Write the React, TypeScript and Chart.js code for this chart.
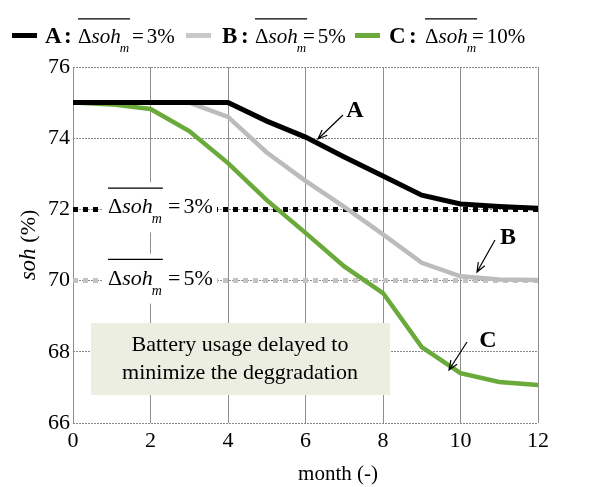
import React, { useEffect, useRef } from "react";
import { Chart, registerables } from "chart.js";

Chart.register(...registerables);

const months = [0, 1, 2, 3, 4, 5, 6, 7, 8, 9, 10, 11, 12];
const seriesA = [75, 75, 75, 75, 75, 74.48, 74.03, 73.47, 72.94, 72.4, 72.15, 72.08, 72.03];
const seriesB = [75, 75, 75, 75, 74.6, 73.6, 72.8, 72.07, 71.3, 70.5, 70.12, 70.03, 70.02];
const seriesC = [75, 74.95, 74.82, 74.2, 73.3, 72.26, 71.34, 70.4, 69.65, 68.13, 67.4, 67.15, 67.07];
const refA = months.map(() => 72);
const refB = months.map(() => 70);
const yTicks = [66, 68, 70, 72, 74, 76];
const xTicks = [0, 2, 4, 6, 8, 10, 12];

const SERIF = "'Liberation Serif', 'Times New Roman', serif";

function drawDsoh(ctx: CanvasRenderingContext2D, x: number, y: number, size: number, value: string, eqX?: number) {
  ctx.save();
  ctx.fillStyle = "#000";
  ctx.strokeStyle = "#000";
  ctx.textBaseline = "alphabetic";
  ctx.textAlign = "left";
  ctx.font = `${size}px ${SERIF}`;
  ctx.fillText("Δ", x, y);
  let w = ctx.measureText("Δ").width;
  ctx.font = `italic ${size}px ${SERIF}`;
  ctx.fillText("soh", x + w, y);
  w += ctx.measureText("soh").width;
  ctx.font = `italic ${Math.round(size * 0.62)}px ${SERIF}`;
  ctx.fillText("m", x + w - 1, y + size * 0.45);
  w += ctx.measureText("m").width - 1;
  ctx.lineWidth = 1.3;
  ctx.beginPath();
  ctx.moveTo(x, y - size * 1.15);
  ctx.lineTo(x + w + 1, y - size * 1.15);
  ctx.stroke();
  ctx.font = `${size}px ${SERIF}`;
  const ex = eqX !== undefined ? eqX : x + w + 5;
  ctx.fillText("=", ex, y);
  const ew = ctx.measureText("=").width;
  ctx.fillText(value, ex + ew + 3, y);
  ctx.restore();
}

function arrow(ctx: CanvasRenderingContext2D, x1: number, y1: number, x2: number, y2: number) {
  ctx.save();
  ctx.strokeStyle = "#000";
  ctx.lineWidth = 1.2;
  ctx.beginPath();
  ctx.moveTo(x1, y1);
  ctx.lineTo(x2, y2);
  const a = Math.atan2(y2 - y1, x2 - x1);
  const L = 10;
  ctx.moveTo(x2 - L * Math.cos(a - 0.38), y2 - L * Math.sin(a - 0.38));
  ctx.lineTo(x2, y2);
  ctx.lineTo(x2 - L * Math.cos(a + 0.38), y2 - L * Math.sin(a + 0.38));
  ctx.stroke();
  ctx.restore();
}

const overlay = {
  id: "overlay",
  afterDatasetsDraw(chart: any) {
    const ctx: CanvasRenderingContext2D = chart.ctx;
    const ys = chart.scales.y;
    const lab = (val: number, text: string) => {
      const yb = ys.getPixelForValue(val);
      ctx.save();
      ctx.fillStyle = "#fff";
      ctx.fillRect(102, yb - 27, 115, 50);
      ctx.restore();
      drawDsoh(ctx, 108, yb + 4, 22, text, 168);
    };
    lab(72, "3%");
    lab(70, "5%");

    // text box
    ctx.save();
    ctx.fillStyle = "#ebeee0";
    ctx.fillRect(91, 323, 299, 72);
    ctx.fillStyle = "#000";
    ctx.font = `22px ${SERIF}`;
    ctx.textAlign = "center";
    ctx.textBaseline = "middle";
    ctx.fillText("Battery usage delayed to", 240, 345);
    ctx.fillText("minimize the deggradation", 240, 373);
    ctx.restore();

    // arrows & labels
    arrow(ctx, 343, 115, 318, 139);
    arrow(ctx, 495, 240, 477, 272);
    arrow(ctx, 467, 342, 449, 370);
    ctx.save();
    ctx.fillStyle = "#000";
    ctx.font = `bold 24px ${SERIF}`;
    ctx.textAlign = "center";
    ctx.textBaseline = "middle";
    ctx.fillText("A", 355, 111);
    ctx.fillText("B", 508, 238);
    ctx.fillText("C", 488, 341);
    ctx.restore();

    // legend
    const items = [
      { c: "#000", l: "A", v: "3%", x: 12, lx: 45, cx: 64, dx: 78, ex: 132 },
      { c: "#c8c8c8", l: "B", v: "5%", x: 186, lx: 222, cx: 241, dx: 255, ex: 303 },
      { c: "#6aaa3a", l: "C", v: "10%", x: 355, lx: 389, cx: 409, dx: 425, ex: 472 },
    ];
    for (const it of items) {
      ctx.save();
      ctx.fillStyle = it.c;
      ctx.fillRect(it.x, 33, 25, 5);
      ctx.fillStyle = "#000";
      ctx.font = `bold 23px ${SERIF}`;
      ctx.textBaseline = "alphabetic";
      ctx.textAlign = "left";
      ctx.fillText(it.l, it.lx, 43);
      ctx.fillText(":", it.cx, 43);
      ctx.restore();
      drawDsoh(ctx, it.dx, 43, 21, it.v, it.ex);
    }

    // axis titles
    ctx.save();
    ctx.fillStyle = "#000";
    ctx.translate(29, 245);
    ctx.rotate(-Math.PI / 2);
    ctx.textBaseline = "middle";
    ctx.font = `italic 23px ${SERIF}`;
    const w1 = ctx.measureText("soh ").width;
    ctx.font = `22px ${SERIF}`;
    const w2 = ctx.measureText("(%)").width;
    const start = -(w1 + w2) / 2;
    ctx.font = `italic 23px ${SERIF}`;
    ctx.fillText("soh ", start, 0);
    ctx.font = `22px ${SERIF}`;
    ctx.fillText("(%)", start + w1, 0);
    ctx.restore();

    ctx.save();
    ctx.fillStyle = "#000";
    ctx.font = `21px ${SERIF}`;
    ctx.textAlign = "center";
    ctx.textBaseline = "middle";
    ctx.fillText("month (-)", 338, 474);
    ctx.restore();
  },
};

export default function App() {
  const ref = useRef<HTMLCanvasElement | null>(null);
  useEffect(() => {
    if (!ref.current) return;
    const chart = new Chart(ref.current, {
      type: "line",
      data: {
        labels: months,
        datasets: [
          { label: "refA", data: refA, borderColor: "#000", borderWidth: 5, borderDash: [5, 5], pointRadius: 0, order: 5 },
          { label: "refB", data: refB, borderColor: "#c4c4c4", borderWidth: 5, borderDash: [5, 5], pointRadius: 0, order: 5 },
          { label: "A", data: seriesA, borderColor: "#000", borderWidth: 5, pointRadius: 0, order: 1 },
          { label: "B", data: seriesB, borderColor: "#bcbcbc", borderWidth: 4.5, pointRadius: 0, order: 2 },
          { label: "C", data: seriesC, borderColor: "#6aaa3a", borderWidth: 4.5, pointRadius: 0, order: 3 },
        ],
      },
      options: {
        responsive: false,
        animation: false,
        layout: { padding: { left: 0, right: 66, top: 67, bottom: 0 } },
        plugins: { legend: { display: false }, tooltip: { enabled: false } },
        scales: {
          x: {
            type: "linear",
            min: 0,
            max: 12,
            afterBuildTicks: (s: any) => { s.ticks = xTicks.map((v) => ({ value: v })); },
            afterFit: (s: any) => { s.height = 64; },
            grid: { color: "#8f8f8f", lineWidth: 1, drawTicks: false },
            border: { display: false },
            ticks: { color: "#000", font: { family: SERIF, size: 22 }, padding: 5 },
          },
          y: {
            min: 66,
            max: 76,
            afterBuildTicks: (s: any) => { s.ticks = yTicks.map((v) => ({ value: v })); },
            afterFit: (s: any) => { s.width = 73; },
            grid: { color: "#8a8a8a", lineWidth: 1, drawTicks: false },
            border: { display: false, dash: [2, 1] },
            ticks: { color: "#000", font: { family: SERIF, size: 22 }, padding: 3 },
          },
        },
      },
      plugins: [overlay],
    } as any);
    return () => chart.destroy();
  }, []);
  return (
    <div style={{ position: "absolute", left: 0, top: 0, width: 604, height: 487, background: "#fff" }}>
      <canvas ref={ref} width={604} height={487} />
    </div>
  );
}
